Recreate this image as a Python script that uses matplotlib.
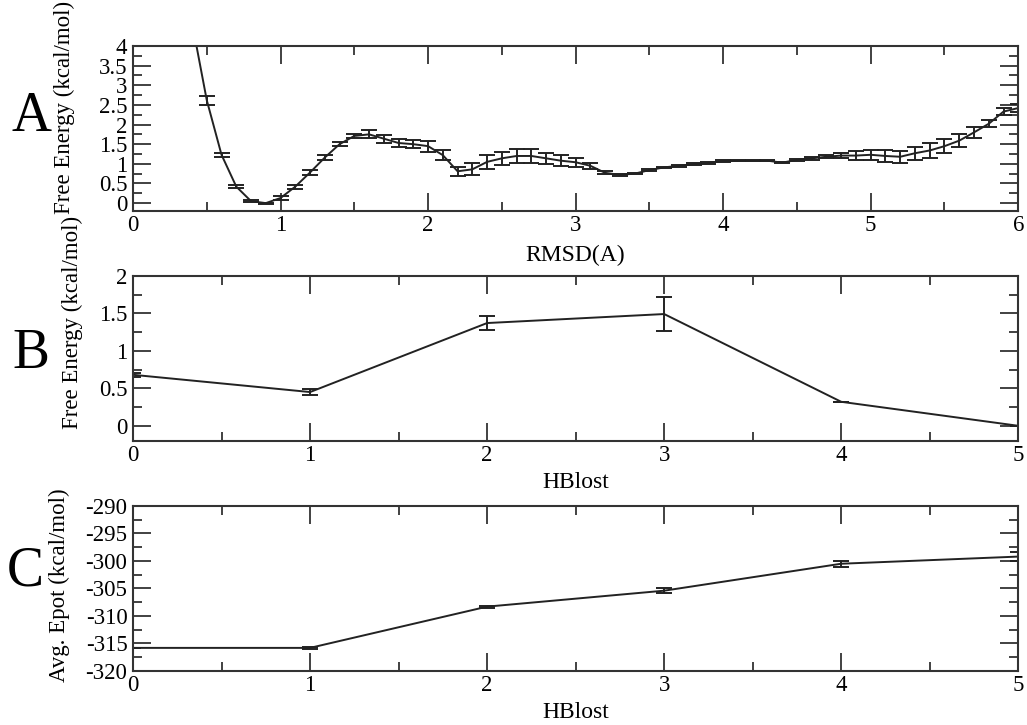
import matplotlib
matplotlib.use('Agg')
import matplotlib.pyplot as plt
from matplotlib.ticker import MultipleLocator, FormatStrFormatter

plt.rcParams['font.family'] = ['Liberation Serif', 'DejaVu Serif']
plt.rcParams['axes.unicode_minus'] = False

# panel A: free energy vs RMSD
rmsd = [0.4, 0.5, 0.6, 0.7, 0.8, 0.9, 1.0, 1.1, 1.2, 1.3, 1.4, 1.5, 1.6, 1.7, 1.8, 1.9,
        2.0, 2.1, 2.2, 2.3, 2.4, 2.5, 2.6, 2.7, 2.8, 2.9, 3.0, 3.1, 3.2, 3.3, 3.4, 3.5,
        3.6, 3.7, 3.8, 3.9, 4.0, 4.1, 4.2, 4.3, 4.4, 4.5, 4.6, 4.7, 4.8, 4.9, 5.0, 5.1,
        5.2, 5.3, 5.4, 5.5, 5.6, 5.7, 5.8, 5.9, 6.0]
fe_rmsd = [4.6, 2.62, 1.23, 0.42, 0.05, 0.0, 0.13, 0.42, 0.78, 1.16, 1.50, 1.71, 1.75, 1.64,
           1.53, 1.50, 1.45, 1.22, 0.81, 0.86, 1.05, 1.14, 1.20, 1.20, 1.14, 1.08, 1.04,
           0.95, 0.77, 0.72, 0.75, 0.84, 0.91, 0.95, 0.99, 1.02, 1.07, 1.08, 1.08, 1.08,
           1.03, 1.10, 1.14, 1.18, 1.21, 1.21, 1.23, 1.20, 1.18, 1.27, 1.34, 1.45, 1.59,
           1.80, 2.02, 2.33, 2.42]
err_rmsd = [0.0, 0.11, 0.05, 0.045, 0.03, 0.01, 0.05, 0.05, 0.06, 0.06, 0.05, 0.04, 0.10,
            0.10, 0.11, 0.10, 0.14, 0.12, 0.11, 0.15, 0.17, 0.17, 0.17, 0.17, 0.14, 0.14,
            0.12, 0.07, 0.04, 0.03, 0.02, 0.02, 0.02, 0.02, 0.02, 0.02, 0.02, 0.01, 0.01,
            0.01, 0.02, 0.02, 0.03, 0.04, 0.07, 0.11, 0.13, 0.15, 0.15, 0.16, 0.18, 0.17,
            0.16, 0.13, 0.09, 0.09, 0.10]

# panel B: free energy vs lost H-bonds
hblost = [0, 1, 2, 3, 4, 5]
fe_hb = [0.68, 0.45, 1.37, 1.49, 0.32, 0.0]
err_fe_hb = [0.03, 0.04, 0.09, 0.225, 0.0, 0.0]

# panel C: average potential energy vs lost H-bonds
epot = [-315.8, -315.8, -308.3, -305.4, -300.5, -299.2]
err_epot = [0.0, 0.15, 0.2, 0.5, 0.55, 0.75]

fig = plt.figure(figsize=(10.27, 7.25), dpi=100)
left, width, height = 0.1295, 0.862, 0.2276
axA = fig.add_axes([left, 0.709, width, height])
axB = fig.add_axes([left, 0.392, width, height])
axC = fig.add_axes([left, 0.0745, width, height])

lc = '#222222'
kw = dict(color=lc, lw=1.4, elinewidth=1.4, capsize=5.5, capthick=1.4)
axA.errorbar(rmsd, fe_rmsd, yerr=err_rmsd, **kw)
axB.errorbar(hblost, fe_hb, yerr=err_fe_hb, **kw)
axC.errorbar(hblost, epot, yerr=err_epot, **kw)

axA.set_xlim(0, 6)
axA.set_ylim(-0.2, 4)
axB.set_xlim(0, 5)
axB.set_ylim(-0.2, 2)
axC.set_xlim(0, 5)
axC.set_ylim(-320, -290)

for ax, ymaj, ymin in [(axA, 0.5, 0.25), (axB, 0.5, 0.25), (axC, 5, 2.5)]:
    ax.xaxis.set_major_locator(MultipleLocator(1))
    ax.xaxis.set_minor_locator(MultipleLocator(0.5))
    ax.yaxis.set_major_locator(MultipleLocator(ymaj))
    ax.yaxis.set_minor_locator(MultipleLocator(ymin))
    ax.xaxis.set_major_formatter(FormatStrFormatter('%g'))
    ax.yaxis.set_major_formatter(FormatStrFormatter('%g'))
    ax.tick_params(which='both', direction='in', top=True, right=True,
                   width=1.3, color='#333333', labelsize=16.5)
    ax.tick_params(which='major', length=13)
    ax.tick_params(which='minor', length=6.5)
    ax.tick_params(axis='y', pad=4)
    ax.tick_params(axis='x', pad=3)
    for s in ax.spines.values():
        s.set_linewidth(1.5)
        s.set_color('#333333')

axA.set_xlabel('RMSD(A)', fontsize=17, labelpad=6)
axB.set_xlabel('HBlost', fontsize=17, labelpad=4)
axC.set_xlabel('HBlost', fontsize=17, labelpad=4)
axA.set_ylabel('Free Energy (kcal/mol)', fontsize=16.5)
axB.set_ylabel('Free Energy (kcal/mol)', fontsize=16.5)
axC.set_ylabel('Avg. Epot (kcal/mol)', fontsize=16.5)
axA.yaxis.set_label_coords(-0.066, 0.63)
axB.yaxis.set_label_coords(-0.056, 0.72)
axC.yaxis.set_label_coords(-0.071, 0.52)

for letter, xp, yp in [('A', 32, 117), ('B', 31, 354), ('C', 25, 572)]:
    fig.text(xp / 1027, 1 - yp / 725, letter, fontsize=40, ha='center', va='center')

fig.savefig('out.png', dpi=100)
